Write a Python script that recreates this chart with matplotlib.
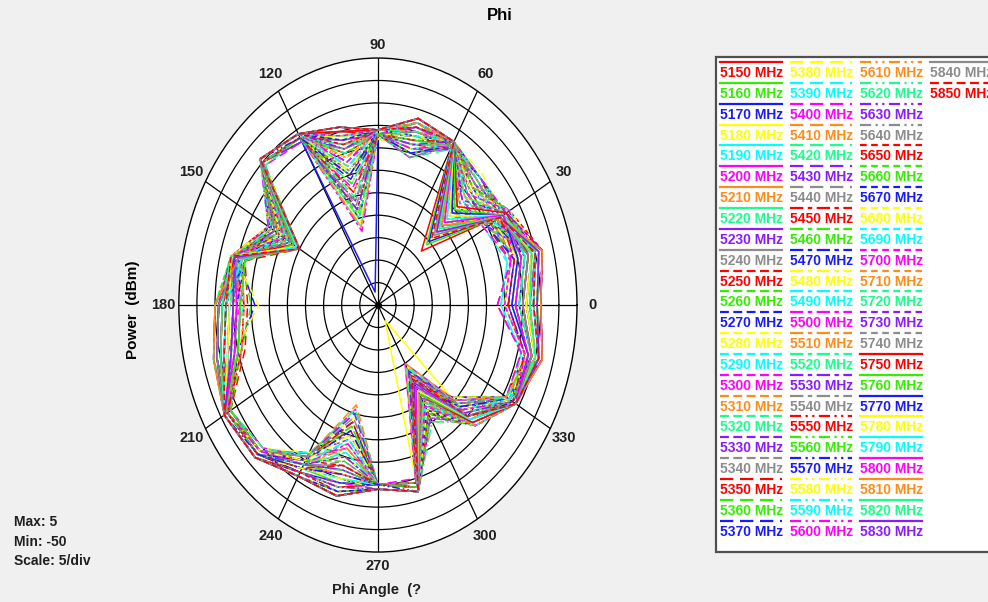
import numpy as np
import matplotlib.pyplot as plt
from matplotlib.lines import Line2D
from matplotlib.patches import Rectangle

plt.rcParams['font.family'] = ['Liberation Sans', 'DejaVu Sans']

# Measured phi cut, one row per frequency, gain in dBm every 15 degrees
freqs = list( range( 5150, 5851, 10 ) )
angles_deg = [0, 15, 30, 45, 60, 75, 90, 105, 120, 135, 150, 165,
              180, 195, 210, 225, 240, 255, 270, 285, 300, 315, 330, 345]

gain_db = [
    [-5, -3, -9, -33, -9, -8, -12, -10, -7, -5, -15, -8, -6, -4, -2, -3, -7, -8, -10, -8, -22, -14, -7, -3],
    [-7, -5, -10, -31, -9, -8, -12, -11, -7, -5, -16, -9, -8, -6, -2, -3, -8, -9, -10, -8, -23, -14, -7, -4],
    [-9, -6, -9, -30, -9, -9, -12, -47, -7, -5, -15, -10, -5, -3, -2, -3, -7, -9, -10, -8, -22, -15, -7, -5],
    [-6, -4, -10, -29, -8, -9, -11, -11, -7, -5, -16, -8, -10, -8, -2, -3, -8, -10, -10, -8, -46, -15, -7, -4],
    [-11, -8, -10, -28, -9, -9, -12, -12, -7, -5, -17, -11, -7, -5, -2, -3, -8, -10, -10, -8, -24, -15, -7, -6],
    [-8, -5, -11, -27, -9, -9, -12, -12, -7, -5, -17, -9, -12, -10, -2, -3, -8, -11, -10, -8, -25, -16, -7, -5],
    [-13, -10, -11, -27, -9, -10, -12, -13, -7, -5, -18, -10, -6, -4, -2, -3, -9, -11, -10, -8, -25, -16, -7, -7],
    [-6, -4, -11, -26, -9, -10, -13, -13, -7, -5, -18, -12, -9, -7, -2, -3, -9, -12, -10, -8, -26, -16, -8, -4],
    [-10, -7, -12, -25, -9, -10, -12, -14, -7, -5, -19, -8, -11, -9, -2, -3, -9, -12, -10, -8, -26, -17, -8, -6],
    [-15, -12, -12, -25, -9, -10, -12, -14, -8, -5, -19, -9, -7, -5, -2, -4, -9, -13, -10, -8, -27, -17, -8, -8],
    [-7, -5, -12, -24, -9, -11, -12, -15, -7, -5, -20, -11, -13, -11, -2, -3, -10, -13, -10, -8, -27, -17, -8, -4],
    [-12, -9, -12, -24, -10, -11, -12, -15, -7, -5, -20, -10, -8, -6, -2, -4, -10, -14, -10, -9, -28, -18, -8, -7],
    [-5, -3, -13, -23, -9, -11, -12, -16, -7, -5, -21, -8, -6, -4, -2, -3, -10, -15, -10, -8, -28, -18, -8, -3],
    [-9, -6, -13, -23, -9, -11, -12, -16, -7, -5, -21, -9, -10, -8, -2, -4, -10, -15, -10, -8, -29, -18, -8, -5],
    [-16, -13, -13, -22, -9, -12, -12, -17, -7, -5, -22, -12, -9, -7, -3, -4, -11, -16, -10, -9, -29, -19, -8, -9],
    [-8, -5, -13, -22, -9, -12, -12, -17, -7, -5, -22, -10, -7, -5, -2, -4, -11, -17, -10, -8, -30, -19, -8, -5],
    [-11, -8, -14, -21, -9, -12, -12, -18, -7, -5, -23, -9, -12, -10, -3, -4, -11, -17, -10, -9, -30, -19, -8, -6],
    [-6, -4, -14, -21, -10, -12, -12, -18, -7, -6, -23, -8, -5, -3, -3, -4, -11, -18, -10, -8, -31, -20, -8, -4],
    [-14, -11, -14, -20, -9, -13, -12, -19, -7, -5, -24, -11, -8, -6, -3, -4, -12, -19, -10, -9, -31, -20, -8, -8],
    [-10, -7, -14, -20, -9, -13, -12, -19, -7, -5, -24, -10, -11, -9, -3, -4, -12, -20, -10, -9, -32, -20, -9, -6],
    [-17, -12, -15, -19, -10, -13, -12, -20, -8, -5, -25, -12, -14, -12, -3, -4, -12, -21, -10, -9, -32, -21, -9, -9],
    [-13, -10, -15, -19, -9, -14, -12, -20, -7, -6, -25, -11, -15, -11, -3, -4, -12, -22, -10, -9, -33, -21, -9, -7],
    [-14, -11, -15, -18, -10, -14, -12, -21, -8, -5, -24, -10, -16, -10, -3, -4, -12, -23, -10, -9, -33, -21, -9, -8],
    [-15, -12, -16, -18, -9, -14, -13, -22, -7, -6, -24, -9, -17, -9, -3, -5, -12, -24, -10, -9, -34, -21, -9, -8],
    [-16, -13, -16, -17, -10, -15, -12, -22, -8, -5, -23, -11, -13, -8, -3, -4, -12, -25, -10, -9, -34, -20, -9, -9],
    [-17, -12, -16, -17, -10, -15, -12, -23, -8, -6, -23, -12, -12, -7, -3, -5, -11, -26, -10, -10, -35, -20, -9, -9],
    [-12, -9, -15, -16, -9, -15, -12, -24, -7, -5, -22, -9, -8, -6, -3, -4, -11, -27, -10, -9, -35, -20, -9, -7],
    [-10, -7, -15, -16, -10, -16, -12, -25, -7, -6, -22, -8, -7, -5, -3, -5, -11, -26, -10, -9, -34, -19, -9, -6],
    [-9, -6, -15, -15, -9, -16, -12, -26, -8, -5, -21, -10, -6, -4, -3, -4, -11, -25, -10, -9, -33, -19, -8, -5],
    [-8, -5, -14, -15, -9, -16, -12, -27, -7, -5, -21, -9, -9, -7, -3, -4, -11, -24, -10, -9, -32, -19, -8, -5],
    [-7, -5, -14, -14, -9, -15, -12, -28, -7, -5, -20, -11, -10, -8, -2, -4, -10, -23, -10, -9, -31, -18, -8, -4],
    [-6, -4, -14, -14, -9, -15, -12, -29, -7, -5, -20, -8, -11, -9, -3, -4, -10, -22, -10, -9, -30, -18, -8, -4],
    [-11, -8, -13, -13, -9, -15, -12, -30, -7, -5, -19, -10, -7, -5, -2, -4, -10, -21, -10, -8, -29, -18, -8, -6],
    [-13, -10, -13, -13, -9, -14, -12, -31, -7, -5, -19, -9, -6, -4, -2, -4, -10, -20, -10, -8, -28, -17, -8, -7],
    [-8, -6, -13, -12, -9, -14, -12, -32, -7, -5, -18, -12, -8, -6, -2, -3, -9, -19, -10, -8, -27, -17, -8, -5],
    [-5, -3, -12, -12, -9, -14, -12, -33, -7, -5, -18, -8, -12, -10, -2, -4, -9, -18, -10, -8, -26, -17, -7, -3],
    [-9, -6, -12, -12, -9, -13, -12, -32, -7, -5, -18, -9, -5, -3, -2, -3, -9, -17, -10, -8, -25, -16, -7, -5],
    [-12, -9, -12, -11, -9, -13, -12, -30, -7, -5, -17, -11, -9, -7, -2, -3, -9, -16, -10, -8, -25, -16, -7, -7],
    [-6, -4, -11, -11, -8, -13, -12, -28, -7, -5, -17, -10, -10, -8, -2, -3, -9, -15, -10, -8, -24, -16, -7, -4],
    [-10, -7, -11, -11, -9, -12, -12, -26, -7, -5, -17, -8, -7, -5, -2, -3, -8, -14, -10, -8, -24, -15, -7, -6],
    [-14, -11, -11, -10, -8, -12, -12, -24, -7, -5, -16, -9, -13, -11, -2, -3, -8, -13, -10, -8, -23, -15, -7, -8],
    [-7, -5, -10, -10, -9, -12, -12, -22, -7, -5, -16, -10, -6, -4, -2, -3, -8, -12, -10, -8, -23, -15, -7, -4],
    [-5, -3, -10, -10, -8, -11, -11, -20, -7, -4, -16, -12, -8, -6, -1, -3, -8, -11, -10, -7, -22, -14, -7, -3],
    [-8, -6, -10, -9, -8, -11, -11, -19, -6, -4, -15, -8, -11, -9, -1, -2, -8, -10, -9, -7, -22, -14, -6, -5],
    [-11, -8, -9, -10, -8, -11, -11, -18, -6, -4, -15, -11, -5, -3, -1, -2, -7, -9, -9, -7, -21, -14, -6, -6],
    [-6, -4, -9, -10, -8, -10, -11, -17, -6, -4, -15, -9, -9, -7, -1, -2, -7, -9, -9, -7, -21, -13, -6, -4],
    [-9, -6, -9, -11, -8, -10, -11, -16, -6, -4, -16, -10, -7, -5, -1, -2, -7, -8, -9, -7, -20, -13, -6, -5],
    [-13, -10, -9, -11, -8, -10, -11, -15, -6, -4, -16, -8, -12, -10, -1, -2, -7, -8, -9, -7, -20, -13, -6, -7],
    [-7, -5, -9, -12, -8, -9, -11, -14, -6, -4, -17, -9, -6, -4, -1, -2, -7, -8, -9, -7, -21, -13, -6, -4],
    [-10, -7, -8, -12, -8, -9, -11, -13, -6, -4, -17, -11, -10, -8, -1, -2, -7, -7, -9, -7, -21, -12, -6, -6],
    [-5, -3, -8, -13, -8, -9, -11, -13, -6, -4, -18, -10, -8, -6, -1, -2, -7, -7, -9, -7, -22, -12, -6, -3],
    [-8, -6, -8, -13, -8, -8, -11, -12, -6, -4, -18, -8, -5, -3, -1, -2, -6, -7, -9, -7, -22, -12, -6, -5],
    [-12, -9, -8, -14, -8, -8, -11, -12, -6, -4, -19, -12, -11, -9, -1, -2, -6, -7, -9, -7, -23, -12, -6, -7],
    [-6, -4, -8, -14, -8, -8, -11, -11, -6, -4, -19, -9, -7, -5, -1, -2, -6, -6, -9, -7, -23, -12, -6, -4],
    [-9, -6, -8, -15, -8, -8, -11, -11, -6, -4, -20, -10, -9, -7, -1, -2, -6, -6, -9, -7, -24, -12, -6, -5],
    [-15, -12, -8, -15, -8, -8, -11, -11, -6, -4, -20, -8, -6, -4, -1, -2, -6, -6, -9, -7, -24, -12, -6, -8],
    [-7, -5, -9, -16, -8, -8, -11, -10, -6, -4, -21, -11, -13, -11, -1, -2, -6, -6, -9, -7, -25, -12, -6, -4],
    [-11, -8, -9, -16, -8, -7, -11, -10, -6, -4, -21, -9, -8, -6, -1, -2, -6, -6, -9, -7, -25, -13, -6, -6],
    [-5, -3, -9, -17, -8, -7, -11, -10, -6, -4, -22, -10, -5, -3, -1, -2, -6, -6, -9, -7, -26, -13, -6, -3],
    [-8, -6, -9, -18, -8, -7, -11, -10, -6, -4, -22, -8, -10, -8, -1, -2, -6, -6, -9, -7, -26, -13, -6, -5],
    [-10, -7, -9, -19, -8, -7, -11, -10, -6, -4, -23, -9, -7, -5, -1, -2, -6, -6, -9, -7, -27, -13, -6, -6],
    [-6, -4, -10, -20, -8, -7, -11, -9, -6, -4, -23, -12, -12, -10, -1, -2, -6, -6, -9, -7, -27, -14, -6, -4],
    [-13, -10, -10, -21, -8, -7, -11, -9, -6, -4, -24, -10, -6, -4, -1, -2, -6, -6, -9, -7, -28, -14, -6, -7],
    [-9, -6, -10, -22, -8, -7, -11, -9, -6, -4, -24, -8, -9, -7, -1, -2, -6, -6, -9, -7, -28, -14, -6, -5],
    [-7, -5, -10, -23, -8, -7, -11, -9, -6, -4, -24, -11, -8, -6, -1, -2, -6, -6, -9, -7, -29, -14, -6, -4],
    [-12, -9, -10, -24, -8, -7, -11, -9, -6, -4, -25, -9, -11, -9, -1, -2, -6, -6, -9, -7, -29, -15, -6, -7],
    [-5, -3, -11, -25, -8, -7, -11, -9, -6, -4, -25, -10, -5, -3, -1, -2, -6, -6, -9, -7, -30, -15, -6, -3],
    [-8, -6, -11, -26, -8, -7, -11, -9, -6, -4, -25, -8, -7, -5, -1, -2, -6, -6, -9, -7, -30, -15, -6, -5],
    [-6, -4, -11, -27, -8, -7, -11, -9, -6, -4, -25, -9, -10, -8, -1, -2, -6, -6, -9, -7, -30, -15, -6, -4],
    [-10, -7, -11, -28, -8, -7, -11, -9, -6, -4, -25, -10, -6, -4, -1, -2, -6, -6, -9, -7, -31, -15, -6, -6],
    [-7, -5, -11, -29, -8, -7, -11, -9, -6, -4, -25, -8, -8, -6, -1, -2, -6, -6, -9, -7, -31, -15, -6, -4],
]

# Colour repeats every 10 traces, the dash pattern changes with each block of 10
trace_colors = ['#ff0000', '#33ee00', '#1a1aff', '#ffff00', '#00ffff',
                '#ff00ff', '#ff8c1a', '#1aff8c', '#8c1aff', '#8c8c8c']
trace_styles = ['-', (0, (4, 2)), (0, (6, 3)), (0, (6, 2, 2, 2)),
                (0, (5, 2, 1, 2, 1, 2)), (0, (3, 2)), '-', (0, (4, 2))]

r_min, r_max = -50, 5

fig = plt.figure( figsize=(9.88, 6.02), dpi=100, facecolor='#f0f0f0' )
ax = fig.add_axes( [0.181, 0.083, 0.403, 0.8206], projection='polar' )
# let the plot stretch to the box instead of staying round
ax.set_aspect( 'auto' )
ax.set_facecolor( 'white' )
ax.set_ylim( r_min, r_max )
ax.set_yticks( np.arange( -45, 5, 5 ) )
ax.set_yticklabels( [] )
ax.set_xticks( np.radians( np.arange( 0, 360, 30 ) ) )
ax.set_xticklabels( [] )
ax.grid( True, color='black', lw=0.9, ls='-' )
ax.spines['polar'].set_color( 'black' )
ax.spines['polar'].set_linewidth( 1.0 )

theta = np.radians( angles_deg + [360] )
for i in range( len( freqs ) ):
    vals = gain_db[i] + [gain_db[i][0]]
    ax.plot( theta, vals, color=trace_colors[i % 10],
             ls=trace_styles[i // 10], lw=1.1 )

ax.plot( 0, r_min, 'o', color='black', ms=4 )

# angle labels around the rim
for a in range( 0, 360, 30 ):
    r_lab = 8.0 if a in (90, 270) else 9.4
    ax.text( np.radians( a ), r_lab, str( a ), ha='center', va='center',
             fontsize=10.5, fontweight='bold', color='#202020', clip_on=False )

fig.text( 500 / 988, 1 - 15 / 602, 'Phi', ha='center', va='center',
          fontsize=12, fontweight='bold' )
fig.text( 133 / 988, 1 - 310 / 602, 'Power  (dBm)', rotation=90,
          ha='center', va='center', fontsize=11, fontweight='bold' )
fig.text( 377 / 988, 1 - 590 / 602, 'Phi Angle  (?', ha='center', va='center',
          fontsize=10.5, fontweight='bold', color='#202020' )

for k, s in enumerate( ['Max: 5', 'Min: -50', 'Scale: 5/div'] ):
    fig.text( 14 / 988, 1 - (522 + 19.5 * k) / 602, s, ha='left', va='center',
              fontsize=10, fontweight='bold', color='#202020' )

# legend panel drawn by hand: 23 rows per column
box = Rectangle( (716 / 988, 1 - 552 / 602), 400 / 988, 495 / 602,
                 transform=fig.transFigure, facecolor='white',
                 edgecolor='#505050', lw=1.6 )
fig.patches.append( box )

col_x = [720, 790, 860, 930]
for i, f in enumerate( freqs ):
    x_px = col_x[i // 23]
    y_px = 73 + (i % 23) * 20.85
    c = trace_colors[i % 10]
    fig.text( x_px / 988, 1 - y_px / 602, "{} MHz".format( f ), color=c,
              ha='left', va='center', fontsize=10, fontweight='bold' )
    fig.add_artist( Line2D( [x_px / 988, (x_px + 62) / 988],
                            [1 - (y_px - 11) / 602] * 2,
                            transform=fig.transFigure, color=c,
                            ls=trace_styles[i // 10], lw=1.6 ) )

fig.savefig( 'out.png', dpi=100, facecolor=fig.get_facecolor() )
